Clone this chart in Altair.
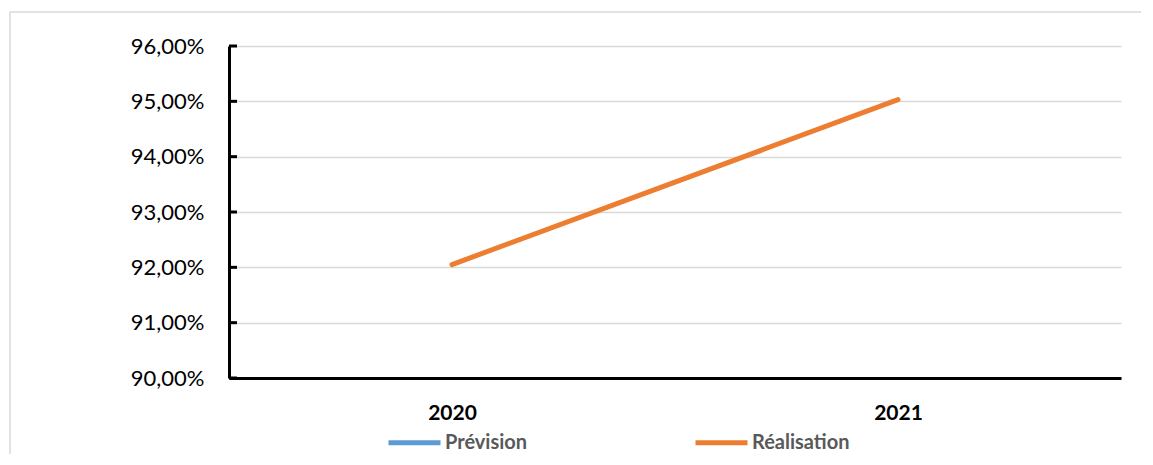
import altair as alt
import pandas as pd

years = ["2020", "2021"]
realisation = [0.9205, 0.9503]
prevision = []  # no visible values
series = ["Prévision", "Réalisation"]
colors = ["#5B9BD5", "#ED7D31"]
y_ticks = [0.90, 0.91, 0.92, 0.93, 0.94, 0.95, 0.96]

df = pd.DataFrame({"year": years, "value": realisation, "series": ["Réalisation"] * len(years)})
ticks_df = pd.DataFrame({"t": y_ticks})

FONT = "Lato"

ysc = alt.Scale(domain=[0.90, 0.96], nice=False, zero=False)

line = alt.Chart(df).mark_line(strokeWidth=5, strokeCap="round").encode(
    x=alt.X("year:O", sort=years,
            axis=alt.Axis(title=None, labelAngle=0, labelFont=FONT, labelFontSize=21,
                          labelFontWeight="bold", labelColor="#000000", ticks=False,
                          domainColor="#000000", domainWidth=3, labelPadding=24, grid=False)),
    y=alt.Y("value:Q", scale=ysc,
            axis=alt.Axis(title=None, values=y_ticks, labelFont=FONT, labelFontSize=22,
                          labelColor="#000000", ticks=False, domainColor="#000000",
                          domainWidth=3, labelPadding=25, grid=True, gridColor="#d9d9d9",
                          gridWidth=1.5,
                          labelExpr="replace(format(datum.value, '.2%'), '.', ',')")),
    color=alt.Color("series:N", scale=alt.Scale(domain=series, range=colors),
                    legend=alt.Legend(title=None, orient="none", legendX=157, legendY=368,
                                      direction="horizontal", columns=2, columnPadding=157,
                                      labelFont=FONT, labelFontSize=20, labelFontWeight="bold",
                                      labelColor="#595959", symbolType="stroke",
                                      symbolSize=2704, symbolStrokeWidth=5, labelOffset=2,
                                      padding=0)),
)

tick_marks = alt.Chart(ticks_df).mark_rule(color="#000000", strokeWidth=3).encode(
    x=alt.value(0), x2=alt.value(8), y=alt.Y("t:Q", scale=ysc)
)

frame = alt.Chart(alt.Data(values=[{}])).mark_rect(
    fill=None, stroke="#d9d9d9", strokeWidth=1.5
).encode(
    x=alt.value(-219), x2=alt.value(940), y=alt.value(-34), y2=alt.value(440)
)

chart = alt.layer(frame, line, tick_marks).properties(
    width=892, height=332,
    autosize=alt.AutoSizeParams(type="none"),
    padding={"left": 221, "top": 38, "right": 20, "bottom": 76},
    background="#ffffff",
).configure_view(stroke=None)

chart.save("out.html", embed_options={"renderer": "svg", "actions": False})
